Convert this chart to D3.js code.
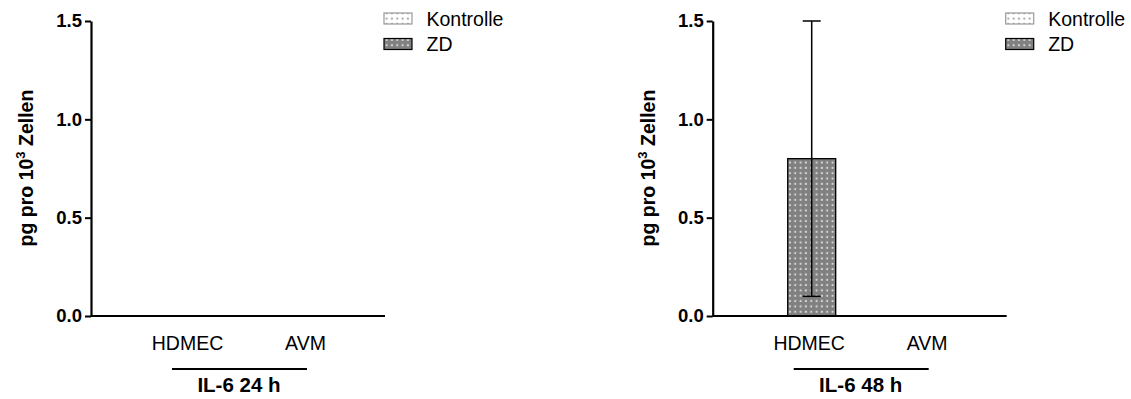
<!DOCTYPE html>
<html>
<head>
<meta charset="utf-8">
<script src="https://cdn.jsdelivr.net/npm/d3@7"></script>
<style>
  body { margin: 0; background: #fff; }
  svg { display: block; font-family: Arial, "Liberation Sans", sans-serif; }
</style>
</head>
<body>
<div id="chart"></div>
<script>
var categories = ["HDMEC", "AVM"];
var seriesNames = ["Kontrolle", "ZD"];
var yTicks = [0, 0.5, 1.0, 1.5];
var panelTitles = ["IL-6 24 h", "IL-6 48 h"];

// mean and SD per category (null = no bar)
var kontrolle24 = [null, null];
var zd24 = [null, null];
var kontrolle24Sd = [null, null];
var zd24Sd = [null, null];

var kontrolle48 = [null, null];
var zd48 = [0.8, null];
var kontrolle48Sd = [null, null];
var zd48Sd = [0.7, null];

var W = 1131, H = 399;
var svg = d3.select('#chart').append('svg')
    .attr('width', W)
    .attr('height', H);

// dot patterns like the Prism fills
var defs = svg.append('defs');
function dotPattern(id, bg, dot) {
    var p = defs.append('pattern')
        .attr('id', id)
        .attr('patternUnits', 'userSpaceOnUse')
        .attr('width', 5.33).attr('height', 5.33);
    p.append('rect').attr('width', 5.33).attr('height', 5.33).attr('fill', bg);
    p.append('rect').attr('x', 1.6).attr('y', 1.6).attr('width', 2).attr('height', 2).attr('fill', dot);
}
dotPattern('dotsWhite', '#ffffff', '#a8a8a8');
dotPattern('dotsGray', '#808080', '#d4d4d4');

var fills = { "Kontrolle": 'url(#dotsWhite)', "ZD": 'url(#dotsGray)' };
var strokes = { "Kontrolle": '#999', "ZD": '#000' };

function drawPanel(x0, means, sds, title) {
    var plotW = 294;
    var y = d3.scaleLinear()
        .domain([0, 1.5])
        .range([316, 21]);

    var x = d3.scaleBand()
        .domain(categories)
        .range([27, 241])
        .paddingInner(0.1864);

    var xs = d3.scaleBand()
        .domain(seriesNames)
        .range([0, x.bandwidth()]);

    var g = svg.append('g')
        .attr('transform', 'translate(' + x0 + ',0)');

    // bars
    seriesNames.forEach(function(s, si) {
        categories.forEach(function(c, ci) {
            var v = means[si][ci];
            if (v == null) return;
            var bx = x(c) + xs(s);
            g.append('rect')
                .attr('x', bx)
                .attr('y', y(v))
                .attr('width', xs.bandwidth())
                .attr('height', y(0) - y(v))
                .attr('fill', fills[s])
                .attr('stroke', strokes[s])
                .attr('stroke-width', 1.3);

            var sd = sds[si][ci];
            if (sd == null) return;
            var cx = bx + xs.bandwidth() / 2;
            g.append('line')
                .attr('x1', cx).attr('x2', cx)
                .attr('y1', y(v + sd)).attr('y2', y(v - sd))
                .attr('stroke', '#000').attr('stroke-width', 1.5);
            [v + sd, v - sd].forEach(function(e) {
                g.append('line')
                    .attr('x1', cx - 9).attr('x2', cx + 9)
                    .attr('y1', y(e)).attr('y2', y(e))
                    .attr('stroke', '#000').attr('stroke-width', 1.5);
            });
        });
    });

    // y axis
    var yAxis = g.append('g')
        .call(d3.axisLeft(y)
            .tickValues(yTicks)
            .tickFormat(d3.format('.1f'))
            .tickSize(6)
            .tickSizeOuter(0)
            .tickPadding(3));
    yAxis.select('.domain').attr('stroke-width', 2.2).attr('stroke', '#000');
    yAxis.selectAll('.tick line').attr('stroke-width', 2).attr('stroke', '#000');
    yAxis.selectAll('.tick text')
        .attr('font-size', 18.5)
        .attr('font-weight', 'bold')
        .attr('font-family', 'Arial, "Liberation Sans", sans-serif')
        .attr('fill', '#000');

    // x axis baseline
    g.append('line')
        .attr('x1', 0).attr('x2', plotW)
        .attr('y1', y(0)).attr('y2', y(0))
        .attr('stroke', '#000').attr('stroke-width', 2.2);

    // category labels
    g.selectAll('.cat').data(categories).enter().append('text')
        .attr('class', 'cat')
        .attr('x', function(d) { return x(d) + x.bandwidth() / 2 + 21.5; })
        .attr('y', 350)
        .attr('text-anchor', 'middle')
        .attr('font-size', 19.5)
        .text(function(d) { return d; });

    // group line and title
    g.append('line')
        .attr('x1', 81).attr('x2', 216)
        .attr('y1', 369).attr('y2', 369)
        .attr('stroke', '#000').attr('stroke-width', 2);
    g.append('text')
        .attr('x', 148)
        .attr('y', 392)
        .attr('text-anchor', 'middle')
        .attr('font-size', 20.5)
        .attr('font-weight', 'bold')
        .text(title);

    // y axis title
    var yt = g.append('text')
        .attr('transform', 'translate(' + (-58) + ',168) rotate(-90)')
        .attr('text-anchor', 'middle')
        .attr('font-size', 19.5)
        .attr('font-weight', 'bold');
    yt.append('tspan').text('pg pro 10');
    yt.append('tspan').attr('font-size', 13).attr('dy', -8).text('3');
    yt.append('tspan').attr('dy', 8).text(' Zellen');

    // legend
    var lg = g.append('g').attr('transform', 'translate(293,0)');
    seriesNames.forEach(function(s, i) {
        var cy = 18.5 + i * 25.5;
        lg.append('rect')
            .attr('x', 0).attr('y', cy - 5.5)
            .attr('width', 28).attr('height', 11)
            .attr('fill', fills[s])
            .attr('stroke', strokes[s])
            .attr('stroke-width', 1.2);
        lg.append('text')
            .attr('x', 42.5).attr('y', cy + 7)
            .attr('font-size', 19.5)
            .text(s);
    });
}

drawPanel(91, [kontrolle24, zd24], [kontrolle24Sd, zd24Sd], panelTitles[0]);
drawPanel(712.7, [kontrolle48, zd48], [kontrolle48Sd, zd48Sd], panelTitles[1]);
</script>
</body>
</html>
